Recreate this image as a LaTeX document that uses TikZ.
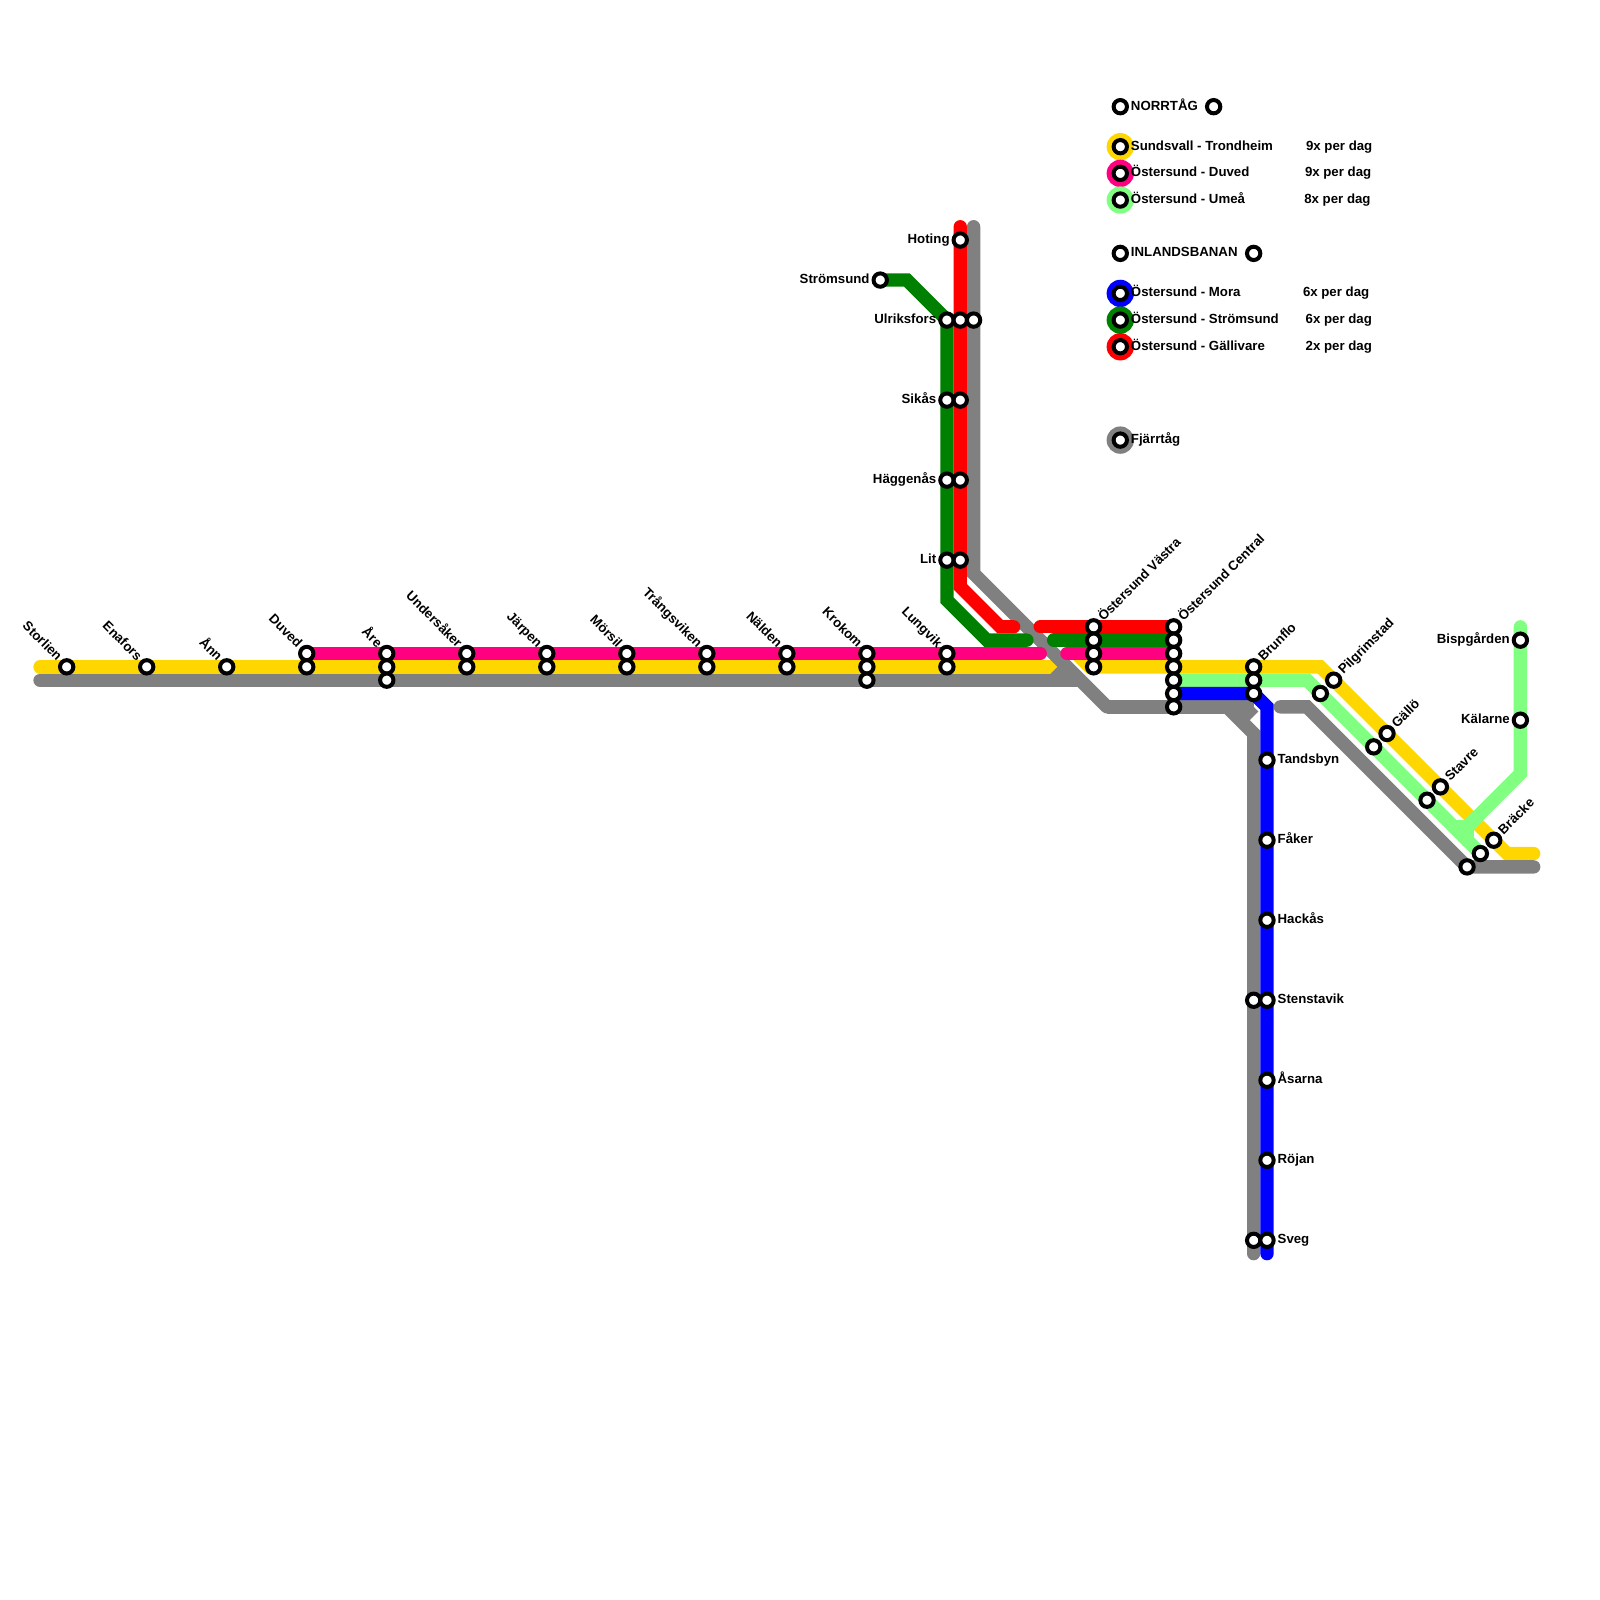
\documentclass[tikz,border=0pt]{standalone}
\usepackage{fontspec}
\setmainfont{Liberation Sans}
\usetikzlibrary{backgrounds}
\definecolor{yellowline}{HTML}{FFD700}
\definecolor{pinkline}{HTML}{FF0080}
\definecolor{limeline}{HTML}{80FF80}
\definecolor{greenline}{HTML}{008000}
\definecolor{redline}{HTML}{FF0000}
\definecolor{blueline}{HTML}{0000FF}
\definecolor{grayline}{HTML}{808080}
\tikzset{
  every node/.style={font=\fontsize{5.65}{6}\selectfont\bfseries, inner sep=0pt, outer sep=0pt},
  stn/.style={circle, draw=black, line width=0.6mm, fill=white, minimum size=2mm},
  swatch/.style={circle, minimum size=4.1mm},
  route/.style={line width=2mm, line cap=round, line join=miter},
  stub/.style={line width=2mm, line cap=butt, line join=miter},
  txt/.style={text height=4.1pt, text depth=1.2pt},
  labl/.style={txt, anchor=east, xshift=-1.6mm},
  labr/.style={txt, anchor=west, xshift=1.6mm},
  labul/.style={txt, xshift=-1.14mm, yshift=1.14mm, rotate=-45, anchor=east},
  labur/.style={txt, xshift=1.14mm, yshift=1.14mm, rotate=45, anchor=west},
  legend/.style={txt, anchor=west},
}
\begin{document}
\begin{tikzpicture}[x=2mm, y=-2mm]
    \useasboundingbox (0,0) rectangle (119.97,119.97);

    % Stations, westbound main line
    \node[stn] (storlien) at (5,50) {};
    \node[stn] (enafors) at (11,50) {};
    \node[stn] (ann) at (17,50) {};
    \node[stn] (duvedP) at (23,49) {};
    \node[stn] (duvedY) at (23,50) {};
    \node[stn] (areP) at (29,49) {};
    \node[stn] (areY) at (29,50) {};
    \node[stn] (areG) at (29,51) {};
    \node[stn] (undersakerP) at (35,49) {};
    \node[stn] (undersakerY) at (35,50) {};
    \node[stn] (jarpenP) at (41,49) {};
    \node[stn] (jarpenY) at (41,50) {};
    \node[stn] (morsilP) at (47,49) {};
    \node[stn] (morsilY) at (47,50) {};
    \node[stn] (trangsvikenP) at (53,49) {};
    \node[stn] (trangsvikenY) at (53,50) {};
    \node[stn] (naldenP) at (59,49) {};
    \node[stn] (naldenY) at (59,50) {};
    \node[stn] (krokomP) at (65,49) {};
    \node[stn] (krokomY) at (65,50) {};
    \node[stn] (krokomG) at (65,51) {};
    \node[stn] (lungvikP) at (71,49) {};
    \node[stn] (lungvikY) at (71,50) {};

    % Stations, north branch
    \node[stn] (hoting) at (72,18) {};
    \node[stn] (stromsund) at (66,21) {};
    \node[stn] (ulriksforsD) at (71,24) {};
    \node[stn] (ulriksforsR) at (72,24) {};
    \node[stn] (ulriksforsG) at (73,24) {};
    \node[stn] (sikasD) at (71,30) {};
    \node[stn] (sikasR) at (72,30) {};
    \node[stn] (haggenasD) at (71,36) {};
    \node[stn] (haggenasR) at (72,36) {};
    \node[stn] (litD) at (71,42) {};
    \node[stn] (litR) at (72,42) {};

    % Stations, Östersund
    \node[stn] (vastraR) at (82,47) {};
    \node[stn] (vastraD) at (82,48) {};
    \node[stn] (vastraP) at (82,49) {};
    \node[stn] (vastraY) at (82,50) {};
    \node[stn] (centralR) at (88,47) {};
    \node[stn] (centralD) at (88,48) {};
    \node[stn] (centralP) at (88,49) {};
    \node[stn] (centralY) at (88,50) {};
    \node[stn] (centralL) at (88,51) {};
    \node[stn] (centralB) at (88,52) {};
    \node[stn] (centralG) at (88,53) {};
    \node[stn] (brunfloY) at (94,50) {};
    \node[stn] (brunfloL) at (94,51) {};
    \node[stn] (brunfloB) at (94,52) {};

    % Stations, south branch
    \node[stn] (tandsbyn) at (95,57) {};
    \node[stn] (faker) at (95,63) {};
    \node[stn] (hackas) at (95,69) {};
    \node[stn] (stenstavikG) at (94,75) {};
    \node[stn] (stenstavikB) at (95,75) {};
    \node[stn] (asarna) at (95,81) {};
    \node[stn] (rojan) at (95,87) {};
    \node[stn] (svegG) at (94,93) {};
    \node[stn] (svegB) at (95,93) {};

    % Stations, east branch
    \node[stn] (pilgrimstadL) at (99,52) {};
    \node[stn] (pilgrimstadY) at (100,51) {};
    \node[stn] (galloL) at (103,56) {};
    \node[stn] (galloY) at (104,55) {};
    \node[stn] (stavreL) at (107,60) {};
    \node[stn] (stavreY) at (108,59) {};
    \node[stn] (brackeG) at (110,65) {};
    \node[stn] (brackeL) at (111,64) {};
    \node[stn] (brackeY) at (112,63) {};
    \node[stn] (bispgarden) at (114,48) {};
    \node[stn] (kalarne) at (114,54) {};

    % Station labels
    \node[labul] (storlienlab) at (storlien) {Storlien};
    \node[labul] (eneforslab) at (enafors) {Enafors};
    \node[labul] (annlab) at (ann) {Ånn};
    \node[labul] (duvedlab) at (duvedP) {Duved};
    \node[labul] (arelab) at (areP) {Åre};
    \node[labul] (undersakerlab) at (undersakerP) {Undersåker};
    \node[labul] (jarpenlab) at (jarpenP) {Järpen};
    \node[labul] (morsillab) at (morsilP) {Mörsil};
    \node[labul] (trangsvikenlab) at (trangsvikenP) {Trångsviken};
    \node[labul] (naldenlab) at (naldenP) {Nälden};
    \node[labul] (krokomlab) at (krokomP) {Krokom};
    \node[labul] (lungviklab) at (lungvikP) {Lungvik};
    \node[labl] (hotinglab) at (hoting) {Hoting};
    \node[labl] (stromsundlab) at (stromsund) {Strömsund};
    \node[labl] (ulriksforslab) at (ulriksforsD) {Ulriksfors};
    \node[labl] (sikaslab) at (sikasD) {Sikås};
    \node[labl] (haggenaslab) at (haggenasD) {Häggenås};
    \node[labl] (litlab) at (litD) {Lit};
    \node[labur] (vastralab) at (vastraR) {Östersund Västra};
    \node[labur] (centrallab) at (centralR) {Östersund Central};
    \node[labur] (brunflolab) at (brunfloY) {Brunflo};
    \node[labur] (pilgrimstadlab) at (pilgrimstadY) {Pilgrimstad};
    \node[labur] (gallolab) at (galloY) {Gällö};
    \node[labur] (stavrelab) at (stavreY) {Stavre};
    \node[labur] (brackelab) at (brackeY) {Bräcke};
    \node[labr] (tandsbynlab) at (tandsbyn) {Tandsbyn};
    \node[labr] (fakerlab) at (faker) {Fåker};
    \node[labr] (hackaslab) at (hackas) {Hackås};
    \node[labr] (stenstaviklab) at (stenstavikB) {Stenstavik};
    \node[labr] (asarnalab) at (asarna) {Åsarna};
    \node[labr] (rojanlab) at (rojan) {Röjan};
    \node[labr] (sveglab) at (svegB) {Sveg};
    \node[labl] (bispgardenlab) at (bispgarden) {Bispgården};
    \node[labl] (kalarnelab) at (kalarne) {Kälarne};

    % Legend
    \node[stn] (norrtagA) at (84,8) {};
    \node[stn] (norrtagB) at (91,8) {};
    \node[legend] (norrtaglab) at (84.8,8) {NORRTÅG};
    \node[stn] (legY) at (84,11) {};
    \node[legend] (legYlab) at (84.8,11) {Sundsvall - Trondheim};
    \node[legend] (legYrate) at (97.93,11) {9x per dag};
    \node[stn] (legP) at (84,13) {};
    \node[legend] (legPlab) at (84.8,13) {Östersund - Duved};
    \node[legend] (legPrate) at (97.85,13) {9x per dag};
    \node[stn] (legL) at (84,15) {};
    \node[legend] (legLlab) at (84.8,15) {Östersund - Umeå};
    \node[legend] (legLrate) at (97.8,15) {8x per dag};
    \node[stn] (inlandA) at (84,19) {};
    \node[stn] (inlandB) at (94,19) {};
    \node[legend] (inlandlab) at (84.8,19) {INLANDSBANAN};
    \node[stn] (legB) at (84,22) {};
    \node[legend] (legBlab) at (84.8,22) {Östersund - Mora};
    \node[legend] (legBrate) at (97.7,22) {6x per dag};
    \node[stn] (legD) at (84,24) {};
    \node[legend] (legDlab) at (84.8,24) {Östersund - Strömsund};
    \node[legend] (legDrate) at (97.9,24) {6x per dag};
    \node[stn] (legR) at (84,26) {};
    \node[legend] (legRlab) at (84.8,26) {Östersund - Gällivare};
    \node[legend] (legRrate) at (97.9,26) {2x per dag};
    \node[stn] (legG) at (84,33) {};
    \node[legend] (legGlab) at (84.8,33) {Fjärrtåg};

    % Bends and line ends
    \coordinate (yw) at (3,50);
    \coordinate (ystop) at (80,50);
    \coordinate (ycutA) at (80.5,49.5);
    \coordinate (ycutB) at (81.5,50.5);
    \coordinate (ycutC) at (82,50.5);
    \coordinate (ycutD) at (82,49.5);
    \coordinate (ybend) at (99,50);
    \coordinate (ylow) at (113,64);
    \coordinate (yend) at (115,64);
    \coordinate (pstop) at (78,49);
    \coordinate (pstart) at (80,49);
    \coordinate (lbend) at (98,51);
    \coordinate (lnorth) at (114,47);
    \coordinate (lknee) at (114,58);
    \coordinate (ljoin) at (110,62);
    \coordinate (lwest) at (109,62);
    \coordinate (lsouth) at (110,63);
    \coordinate (dnorth) at (68,21);
    \coordinate (dtop) at (71,24);
    \coordinate (dknee) at (71,45);
    \coordinate (dlow) at (74,48);
    \coordinate (dstop) at (77,48);
    \coordinate (dstart) at (79,48);
    \coordinate (rtop) at (72,17);
    \coordinate (rknee) at (72,44);
    \coordinate (rlow) at (75,47);
    \coordinate (rstop) at (76,47);
    \coordinate (rstart) at (78,47);
    \coordinate (btop) at (95,53);
    \coordinate (bend) at (95,94);
    \coordinate (gw) at (3,51);
    \coordinate (gjoin) at (81,51);
    \coordinate (gstubA) at (79,51);
    \coordinate (gstubB) at (80,50);
    \coordinate (gtop) at (73,17);
    \coordinate (gknee) at (73,43);
    \coordinate (glow) at (83,53);
    \coordinate (gfork) at (92,53);
    \coordinate (gtip) at (94,53);
    \coordinate (gfoot) at (93,54);
    \coordinate (gdown) at (94,55);
    \coordinate (gend) at (94,94);
    \coordinate (geast) at (96,53);
    \coordinate (gbend) at (98,53);
    \coordinate (gfar) at (115,65);

    \begin{scope}[on background layer]
      % Legend discs
      \node[swatch, fill=yellowline] (discY) at (legY) {};
      \node[swatch, fill=pinkline] (discP) at (legP) {};
      \node[swatch, fill=limeline] (discL) at (legL) {};
      \node[swatch, fill=blueline] (discB) at (legB) {};
      \node[swatch, fill=greenline] (discD) at (legD) {};
      \node[swatch, fill=redline] (discR) at (legR) {};
      \node[swatch, fill=grayline] (discG) at (legG) {};

      % Routes
      \draw[route, yellowline] (yw) -- (ystop);
      \fill[yellowline] (ycutA) -- (ycutB) -- (ycutC) -- (ycutD) -- cycle;
      \draw[route, yellowline] (ycutD |- vastraY) -- (ybend) -- (ylow) -- (yend);
      \draw[route, grayline] (gw) -- (gjoin);
      \draw[stub, grayline] (gstubA) -- (gstubB);
      \draw[route, grayline] (gtop) -- (gknee) -- (glow);
      \draw[stub, grayline] (glow) -- (gtip);
      \draw[stub, grayline] (gtip) -- (gfoot);
      \draw[route, grayline] (gfork) -- (gdown) -- (gend);
      \draw[route, grayline] (geast) -- (gbend) -- (brackeG.center) -- (gfar);
      \draw[route, pinkline] (duvedP.center) -- (pstop);
      \draw[route, pinkline] (pstart) -- (centralP.center);
      \draw[route, limeline] (centralL.center) -- (lbend) -- (brackeL.center);
      \draw[route, limeline] (lnorth) -- (lknee) -- (ljoin) -- (lwest);
      \draw[route, limeline] (ljoin) -- (lsouth);
      \draw[route, greenline] (stromsund.center) -- (dnorth) -- (dtop) -- (dknee) -- (dlow) -- (dstop);
      \draw[route, greenline] (dstart) -- (centralD.center);
      \draw[route, redline] (rtop) -- (rknee) -- (rlow) -- (rstop);
      \draw[route, redline] (rstart) -- (centralR.center);
      \draw[route, blueline] (centralB.center) -- (brunfloB.center) -- (btop) -- (bend);
    \end{scope}
\end{tikzpicture}
\end{document}
